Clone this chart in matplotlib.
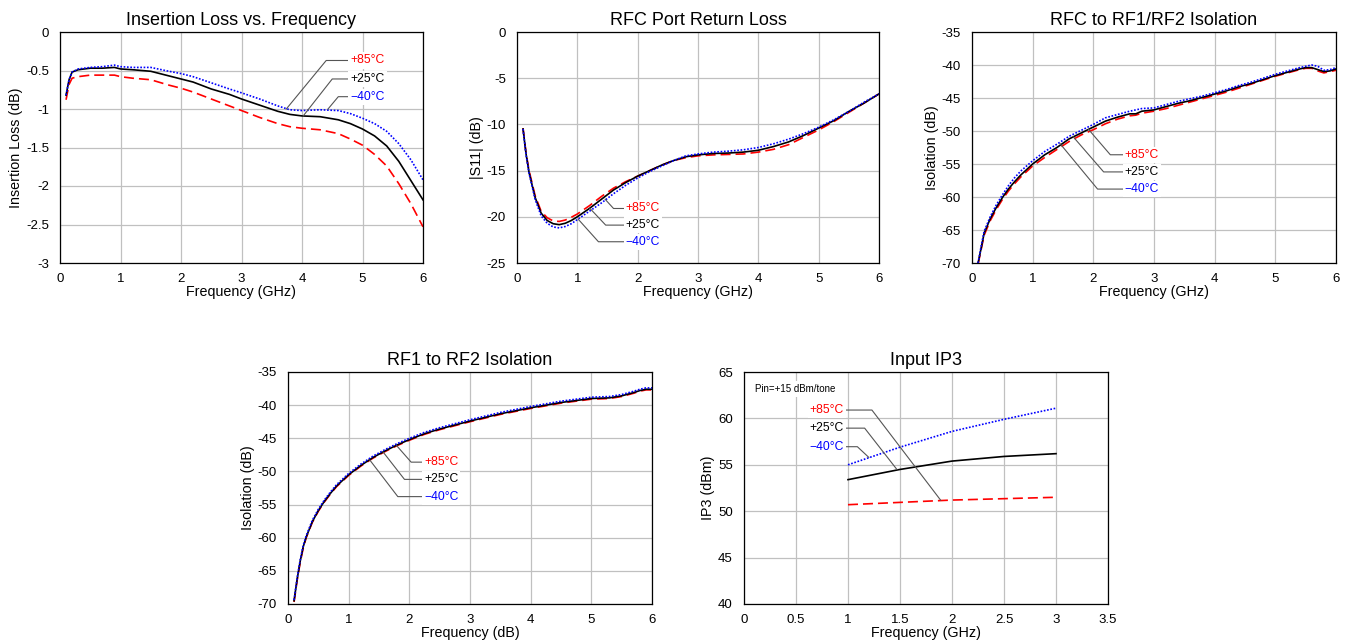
import numpy as np
import matplotlib
matplotlib.use("Agg")
import matplotlib.pyplot as plt

plt.rcParams['font.family'] = ['Liberation Sans', 'DejaVu Sans']

temps = ['+85°C', '+25°C', '\u221240°C']
colors = {'+85°C': '#ff0000', '+25°C': '#000000', '\u221240°C': '#0000ff'}
styles = {'+85°C': (0, (6, 3)), '+25°C': '-', '\u221240°C': (0, (1, 1))}

# Insertion loss vs frequency
il_freq = [0.1, 0.15, 0.2, 0.3, 0.5, 0.7, 0.9, 1.0, 1.2, 1.5, 1.8, 2.0, 2.2, 2.5, 2.8, 3.0,
           3.3, 3.6, 3.8, 4.0, 4.3, 4.6, 4.8, 5.0, 5.2, 5.4, 5.6, 5.8, 6.0]
il_p85 = [-0.88, -0.68, -0.6, -0.58, -0.56, -0.56, -0.56, -0.58, -0.6, -0.62, -0.69, -0.73, -0.78, -0.87,
          -0.96, -1.02, -1.11, -1.19, -1.23, -1.25, -1.27, -1.32, -1.39, -1.47, -1.59, -1.74, -1.97, -2.23, -2.53]
il_p25 = [-0.82, -0.62, -0.52, -0.49, -0.47, -0.47, -0.46, -0.48, -0.49, -0.51, -0.57, -0.61, -0.65, -0.74,
          -0.81, -0.87, -0.95, -1.03, -1.07, -1.09, -1.1, -1.14, -1.19, -1.26, -1.35, -1.48, -1.68, -1.93, -2.18]
il_m40 = [-0.82, -0.62, -0.52, -0.48, -0.46, -0.45, -0.43, -0.45, -0.46, -0.46, -0.51, -0.54, -0.58, -0.66,
          -0.74, -0.79, -0.87, -0.96, -1.01, -1.02, -1.01, -1.02, -1.06, -1.12, -1.19, -1.29, -1.45, -1.66, -1.92]

# RFC port return loss
rl_freq = [0.1, 0.15, 0.2, 0.3, 0.4, 0.5, 0.6, 0.7, 0.8, 0.9, 1.0, 1.2, 1.4, 1.6, 1.8, 2.0, 2.2, 2.4, 2.6,
           2.8, 3.0, 3.25, 3.5, 3.75, 4.0, 4.25, 4.5, 4.75, 5.0, 5.25, 5.5, 5.75, 6.0]
rl_p85 = [-10.4, -13.1, -15.0, -17.7, -19.4, -20.1, -20.45, -20.5, -20.35, -20.05, -19.7, -18.8, -17.8, -16.9,
          -16.2, -15.6, -15.0, -14.4, -13.9, -13.6, -13.4, -13.3, -13.25, -13.2, -13.0, -12.7, -12.2, -11.4,
          -10.6, -9.7, -8.7, -7.7, -6.7]
rl_p25 = [-10.5, -13.2, -15.2, -17.9, -19.6, -20.4, -20.75, -20.85, -20.7, -20.4, -20.0, -19.1, -18.1, -17.1,
          -16.3, -15.6, -15.0, -14.4, -13.9, -13.5, -13.3, -13.15, -13.1, -13.0, -12.8, -12.4, -11.9, -11.2,
          -10.4, -9.6, -8.6, -7.7, -6.7]
rl_m40 = [-10.5, -13.3, -15.3, -18.1, -19.9, -20.7, -21.1, -21.2, -21.05, -20.75, -20.3, -19.4, -18.5, -17.5,
          -16.6, -15.8, -15.1, -14.5, -13.9, -13.4, -13.2, -13.0, -12.9, -12.75, -12.5, -12.1, -11.6, -11.0,
          -10.3, -9.5, -8.6, -7.6, -6.7]

# RFC to RF1/RF2 isolation
iso1_freq = [0.1, 0.15, 0.2, 0.3, 0.4, 0.5, 0.6, 0.7, 0.8, 1.0, 1.2, 1.4, 1.6, 1.8, 2.0, 2.2, 2.4, 2.6, 2.7,
             2.8, 3.0, 3.2, 3.4, 3.6, 3.8, 4.0, 4.2, 4.4, 4.6, 4.8, 5.0, 5.2, 5.4, 5.5, 5.6, 5.7, 5.8, 5.9, 6.0]
iso1_p85 = [-70.2, -68.0, -65.8, -63.6, -61.9, -60.4, -59.1, -58.0, -57.0, -55.3, -54.0, -52.8, -51.6, -50.6,
            -49.8, -48.9, -48.2, -47.7, -47.6, -47.3, -47.0, -46.6, -46.1, -45.6, -45.1, -44.6, -44.1, -43.5,
            -42.9, -42.3, -41.7, -41.2, -40.7, -40.5, -40.5, -40.9, -41.2, -41.0, -40.8]
iso1_p25 = [-70.0, -67.8, -65.5, -63.3, -61.6, -60.1, -58.8, -57.7, -56.7, -55.0, -53.6, -52.5, -51.2, -50.3,
            -49.4, -48.5, -47.9, -47.4, -47.4, -47.0, -46.8, -46.3, -45.8, -45.4, -44.9, -44.4, -43.9, -43.3,
            -42.8, -42.2, -41.6, -41.1, -40.6, -40.4, -40.4, -40.7, -41.0, -40.9, -40.6]
iso1_m40 = [-70.0, -67.5, -65.2, -63.0, -61.2, -59.7, -58.3, -57.1, -56.1, -54.5, -53.1, -52.0, -50.8, -49.9,
            -49.0, -48.0, -47.5, -47.0, -46.8, -46.6, -46.5, -46.0, -45.5, -45.1, -44.7, -44.2, -43.7, -43.1,
            -42.6, -42.0, -41.4, -40.9, -40.4, -40.2, -40.0, -40.2, -40.8, -40.7, -40.4]

# RF1 to RF2 isolation
iso2_freq = [0.1, 0.15, 0.2, 0.25, 0.3, 0.4, 0.5, 0.6, 0.7, 0.8, 1.0, 1.2, 1.4, 1.6, 1.8, 2.0, 2.25, 2.5,
             2.75, 3.0, 3.5, 4.0, 4.5, 5.0, 5.3, 5.5, 5.7, 5.8, 5.9, 6.0]
iso2_p85 = [-69.7, -66.5, -63.8, -61.6, -60.0, -57.7, -56.0, -54.6, -53.4, -52.3, -50.6, -49.2, -48.0, -47.0,
            -46.1, -45.3, -44.4, -43.7, -43.1, -42.5, -41.4, -40.5, -39.7, -39.1, -39.0, -38.7, -38.2, -37.9,
            -37.7, -37.7]
iso2_p25 = [-69.5, -66.3, -63.6, -61.4, -59.9, -57.6, -55.9, -54.5, -53.3, -52.2, -50.5, -49.1, -47.9, -46.9,
            -46.0, -45.2, -44.3, -43.6, -43.0, -42.4, -41.3, -40.4, -39.6, -39.0, -38.9, -38.6, -38.1, -37.8,
            -37.6, -37.6]
iso2_m40 = [-69.4, -66.1, -63.4, -61.2, -59.7, -57.4, -55.7, -54.3, -53.1, -52.0, -50.3, -48.9, -47.7, -46.7,
            -45.8, -45.0, -44.1, -43.4, -42.8, -42.2, -41.1, -40.2, -39.4, -38.8, -38.7, -38.4, -37.9, -37.6,
            -37.4, -37.4]

# Input IP3
ip3_freq = [1.0, 1.5, 2.0, 2.5, 3.0]
ip3_p85 = [50.7, 50.95, 51.2, 51.35, 51.5]
ip3_p25 = [53.4, 54.5, 55.4, 55.9, 56.2]
ip3_m40 = [55.0, 56.9, 58.6, 59.9, 61.1]

W, H = 1350, 644
fig = plt.figure(figsize=(W / 100, H / 100), dpi=100)


def make_ax(l, t, r, b):
    return fig.add_axes([l / W, 1 - b / H, (r - l) / W, (b - t) / H])


def style_ax(ax, title, xlabel, ylabel, xlim, ylim, xticks, yticks):
    ax.set_xlim(*xlim)
    ax.set_ylim(*ylim)
    ax.set_xticks(xticks)
    ax.set_yticks(yticks)
    ax.set_xticklabels(['%g' % v for v in xticks])
    ax.set_yticklabels(['%g' % v for v in yticks])
    ax.grid(True, color='#c0c0c0', lw=0.9)
    ax.set_axisbelow(True)
    ax.tick_params(axis='x', length=0, labelsize=9.5, pad=7)
    ax.tick_params(axis='y', length=0, labelsize=9.5, pad=8)
    for s in ax.spines.values():
        s.set_color('black')
        s.set_linewidth(0.9)
    ax.set_title(title, fontsize=13, pad=5)
    ax.set_xlabel(xlabel, fontsize=10.3, labelpad=0)
    ax.set_ylabel(ylabel, fontsize=10.3, labelpad=2)


def draw(ax, freq, series):
    for t, vals in zip(temps, series):
        ax.plot(freq, vals, color=colors[t], linestyle=styles[t], lw=1.2)


def leaders(ax, items, ha='left'):
    # items: (label, text x, text y, bend x, target x, target y)
    for t, tx, ty, bx, px, py in items:
        ax.plot([tx, bx, px], [ty, ty, py], color='#555555', lw=0.8, zorder=4)
        ax.text(tx, ty, t, color=colors[t], fontsize=8.7, ha=ha, va='center', zorder=5,
                bbox=dict(facecolor='white', edgecolor='none', pad=1.5))


# Plot 1
ax1 = make_ax(60, 32, 423, 263)
draw(ax1, il_freq, [il_p85, il_p25, il_m40])
style_ax(ax1, 'Insertion Loss vs. Frequency', 'Frequency (GHz)', 'Insertion Loss (dB)',
         (0, 6), (-3, 0), range(0, 7), [-3, -2.5, -2, -1.5, -1, -0.5, 0])
leaders(ax1, [('+85°C', 4.8, -0.37, 4.4, 3.74, -1.0),
              ('+25°C', 4.8, -0.61, 4.5, 4.02, -1.09),
              ('\u221240°C', 4.8, -0.84, 4.6, 4.43, -1.0)])

# Plot 2
ax2 = make_ax(517, 32, 879, 263)
draw(ax2, rl_freq, [rl_p85, rl_p25, rl_m40])
style_ax(ax2, 'RFC Port Return Loss', 'Frequency (GHz)', '|S11| (dB)',
         (0, 6), (-25, 0), range(0, 7), range(-25, 1, 5))
leaders(ax2, [('+85°C', 1.8, -19.1, 1.6, 1.46, -18.1),
              ('+25°C', 1.8, -20.9, 1.47, 1.21, -19.1),
              ('\u221240°C', 1.8, -22.7, 1.35, 1.02, -20.3)])

# Plot 3
ax3 = make_ax(972, 32, 1336, 263)
draw(ax3, iso1_freq, [iso1_p85, iso1_p25, iso1_m40])
style_ax(ax3, 'RFC to RF1/RF2 Isolation', 'Frequency (GHz)', 'Isolation (dB)',
         (0, 6), (-70, -35), range(0, 7), range(-70, -34, 5))
leaders(ax3, [('+85°C', 2.52, -53.6, 2.28, 1.92, -49.75),
              ('+25°C', 2.52, -56.2, 2.17, 1.67, -50.9),
              ('\u221240°C', 2.52, -58.8, 2.07, 1.45, -51.9)])

# Plot 4
ax4 = make_ax(288, 372, 652, 604)
draw(ax4, iso2_freq, [iso2_p85, iso2_p25, iso2_m40])
style_ax(ax4, 'RF1 to RF2 Isolation', 'Frequency (dB)', 'Isolation (dB)',
         (0, 6), (-70, -35), range(0, 7), range(-70, -34, 5))
leaders(ax4, [('+85°C', 2.24, -48.6, 2.03, 1.79, -46.1),
              ('+25°C', 2.24, -51.2, 1.92, 1.57, -47.1),
              ('\u221240°C', 2.24, -53.8, 1.81, 1.35, -48.3)])

# Plot 5
ax5 = make_ax(744, 372, 1108, 604)
draw(ax5, ip3_freq, [ip3_p85, ip3_p25, ip3_m40])
style_ax(ax5, 'Input IP3', 'Frequency (GHz)', 'IP3 (dBm)',
         (0, 3.5), (40, 65), [0, 0.5, 1, 1.5, 2, 2.5, 3, 3.5], range(40, 66, 5))
leaders(ax5, [('+85°C', 0.96, 60.9, 1.23, 1.89, 51.2),
              ('+25°C', 0.96, 58.95, 1.16, 1.47, 54.5),
              ('\u221240°C', 0.96, 56.95, 1.09, 1.2, 55.8)], ha='right')
ax5.text(0.11, 63.2, 'Pin=+15 dBm/tone', fontsize=7, va='center', ha='left',
         bbox=dict(facecolor='white', edgecolor='none', pad=2))

fig.savefig('out.png', dpi=100)
